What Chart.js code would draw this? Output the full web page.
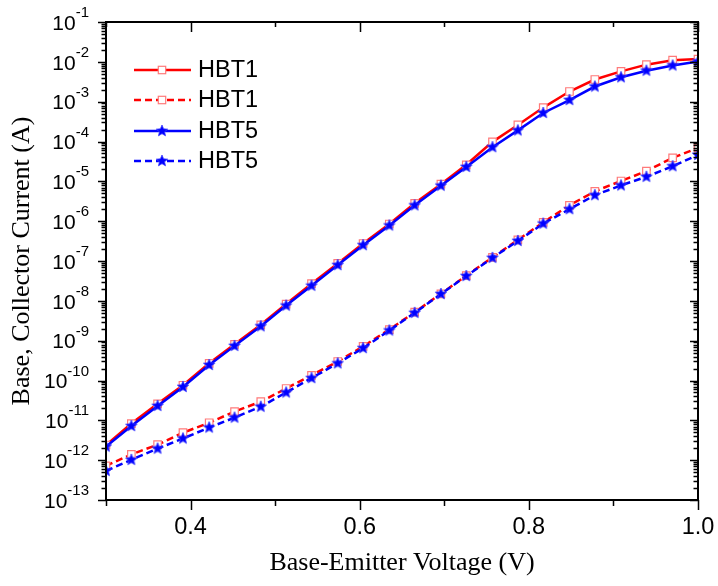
<!DOCTYPE html>
<html>
<head>
<meta charset="utf-8">
<script src="https://cdn.jsdelivr.net/npm/chart.js@4.4.0/dist/chart.umd.min.js"></script>
<style>
  body { margin: 0; background: #fff; }
  #ivChart { display: block; }
</style>
</head>
<body>
<canvas id="ivChart" width="718" height="586"></canvas>
<script>
// base-emitter voltage (V)
var voltage = [0.300, 0.330, 0.361, 0.391, 0.422, 0.452, 0.483, 0.513, 0.543, 0.574, 0.604, 0.635,
               0.665, 0.696, 0.726, 0.757, 0.787, 0.817, 0.848, 0.878, 0.909, 0.939, 0.970, 1.000];

// collector current (A), solid lines
var hbt1Ic = [2.4e-12, 8.3e-12, 2.6e-11, 7.6e-11, 2.7e-10, 8.1e-10, 2.5e-9, 8.3e-9, 2.7e-8, 8.7e-8, 2.75e-7, 8.5e-7,
              2.8e-6, 8.5e-6, 2.6e-5, 9.8e-5, 2.6e-4, 7.1e-4, 1.8e-3, 3.6e-3, 5.75e-3, 8.5e-3, 1.1e-2, 1.17e-2];
var hbt5Ic = [2.2e-12, 7.2e-12, 2.3e-11, 6.9e-11, 2.45e-10, 7.4e-10, 2.3e-9, 7.6e-9, 2.4e-8, 7.9e-8, 2.5e-7, 7.8e-7,
              2.5e-6, 7.8e-6, 2.3e-5, 7.2e-5, 1.9e-4, 5.2e-4, 1.1e-3, 2.4e-3, 4.1e-3, 6.0e-3, 8.1e-3, 1.02e-2];

// base current (A), dashed lines
var hbt1Ib = [7.2e-13, 1.4e-12, 2.45e-12, 4.9e-12, 8.7e-12, 1.66e-11, 2.95e-11, 6.3e-11, 1.35e-10, 3.0e-10, 7.2e-10, 1.9e-9,
              5.2e-9, 1.5e-8, 4.3e-8, 1.23e-7, 3.4e-7, 9.3e-7, 2.5e-6, 5.6e-6, 1.02e-5, 1.8e-5, 3.9e-5, 6.9e-5];
var hbt5Ib = [5.4e-13, 1.02e-12, 1.95e-12, 3.5e-12, 6.6e-12, 1.17e-11, 2.2e-11, 5.0e-11, 1.15e-10, 2.7e-10, 6.5e-10, 1.8e-9,
              5.0e-9, 1.48e-8, 4.2e-8, 1.2e-7, 3.2e-7, 8.7e-7, 2.0e-6, 4.5e-6, 7.9e-6, 1.3e-5, 2.4e-5, 4.6e-5];

// tick labels
var xMajorTicks = [0.4, 0.6, 0.8, 1.0];
var xTickLabels = ['0.4', '0.6', '0.8', '1.0'];
var xMinorTicks = [0.3, 0.5, 0.7, 0.9];
var yExponents = [-13, -12, -11, -10, -9, -8, -7, -6, -5, -4, -3, -2, -1];

function pts(ys) {
    var out = [];
    for (var i = 0; i < voltage.length; i++)
        out.push({ x: voltage[i], y: ys[i] });
    return out;
}

// filled five point star used as the HBT5 marker
function makeStar(r) {
    var c = document.createElement('canvas');
    var s = Math.ceil(r * 2 + 2);
    c.width = s; c.height = s;
    var g = c.getContext('2d');
    g.beginPath();
    for (var i = 0; i < 10; i++) {
        var rad = (i % 2 == 0) ? r : r * 0.45;
        var a = -Math.PI / 2 + i * Math.PI / 5;
        var px = s / 2 + rad * Math.cos(a), py = s / 2 + rad * Math.sin(a);
        if (i == 0) g.moveTo(px, py); else g.lineTo(px, py);
    }
    g.closePath();
    g.fillStyle = '#0000ff';
    g.fill();
    g.strokeStyle = '#3b3bff';
    g.lineWidth = 0.8;
    g.stroke();
    return c;
}
var star = makeStar(6);

function dataset(label, ys, color, dashed, isStar) {
    return {
        label: label,
        data: pts(ys),
        borderColor: color,
        backgroundColor: color,
        borderWidth: 2.5,
        borderDash: dashed ? [7, 4] : [],
        tension: 0,
        pointStyle: isStar ? star : 'rect',
        pointRadius: 5.3,
        pointBorderWidth: 1.2,
        pointBorderColor: isStar ? '#0000ff' : '#ff7a7a',
        pointBackgroundColor: isStar ? '#0000ff' : '#ffffff',
        order: isStar ? 0 : 1
    };
}

// frame, ticks and tick labels (Origin style)
var framePlugin = {
    id: 'frame',
    afterDraw: function (chart) {
        var ctx = chart.ctx, a = chart.chartArea;
        var xs = chart.scales.x, ys = chart.scales.y;
        ctx.save();
        ctx.strokeStyle = '#000';
        ctx.lineWidth = 1.5;
        ctx.beginPath();
        var i, k, n, px, py;
        // x ticks: bottom outward, top inward
        for (i = 0; i < xMajorTicks.length; i++) {
            px = Math.round(xs.getPixelForValue(xMajorTicks[i])) + 0.5;
            ctx.moveTo(px, a.bottom); ctx.lineTo(px, a.bottom + 10);
            ctx.moveTo(px, a.top); ctx.lineTo(px, a.top + 10);
        }
        for (i = 0; i < xMinorTicks.length; i++) {
            px = Math.round(xs.getPixelForValue(xMinorTicks[i])) + 0.5;
            ctx.moveTo(px, a.bottom); ctx.lineTo(px, a.bottom + 6);
            ctx.moveTo(px, a.top); ctx.lineTo(px, a.top + 5);
        }
        // y ticks: left outward, right inward
        for (i = 0; i < yExponents.length; i++) {
            n = yExponents[i];
            py = Math.round(ys.getPixelForValue(Math.pow(10, n))) + 0.5;
            ctx.moveTo(a.left - 8, py); ctx.lineTo(a.left, py);
            ctx.moveTo(a.right, py); ctx.lineTo(a.right - 8, py);
            if (n == -1) continue;
            for (k = 2; k <= 9; k++) {
                py = Math.round(ys.getPixelForValue(k * Math.pow(10, n))) + 0.5;
                ctx.moveTo(a.left - 4.5, py); ctx.lineTo(a.left, py);
                ctx.moveTo(a.right, py); ctx.lineTo(a.right - 4.5, py);
            }
        }
        ctx.stroke();
        ctx.lineWidth = 2;
        ctx.strokeRect(a.left, a.top, a.right - a.left, a.bottom - a.top);

        ctx.fillStyle = '#000';
        ctx.textBaseline = 'middle';
        ctx.textAlign = 'center';
        ctx.font = '23.5px "Liberation Sans", Arial, sans-serif';
        for (i = 0; i < xMajorTicks.length; i++) {
            ctx.fillText(xTickLabels[i], xs.getPixelForValue(xMajorTicks[i]), a.bottom + 28);
        }
        var rightEdge = a.left - 17;
        for (i = 0; i < yExponents.length; i++) {
            n = yExponents[i];
            py = ys.getPixelForValue(Math.pow(10, n));
            var sup = '-' + Math.abs(n);
            ctx.font = '15px "Liberation Sans", Arial, sans-serif';
            ctx.textAlign = 'right';
            var w = ctx.measureText(sup).width;
            ctx.fillText(sup, rightEdge, py - 9);
            ctx.font = '21px "Liberation Sans", Arial, sans-serif';
            ctx.fillText('10', rightEdge - w, py + 2);
        }
        ctx.restore();
    }
};

// legend inside the plot, top left
var legendPlugin = {
    id: 'innerLegend',
    afterDraw: function (chart) {
        var ctx = chart.ctx;
        var rows = [70, 100, 131, 161];
        ctx.save();
        chart.data.datasets.forEach(function (ds, i) {
            var y = rows[i];
            ctx.strokeStyle = ds.borderColor;
            ctx.lineWidth = ds.borderWidth;
            ctx.setLineDash(ds.borderDash);
            ctx.beginPath();
            ctx.moveTo(134, y); ctx.lineTo(191, y);
            ctx.stroke();
            ctx.setLineDash([]);
            if (ds.pointStyle === 'rect') {
                ctx.fillStyle = '#fff';
                ctx.fillRect(158.3, y - 3.7, 7.4, 7.4);
                ctx.strokeStyle = ds.pointBorderColor;
                ctx.lineWidth = 1.2;
                ctx.strokeRect(158.3, y - 3.7, 7.4, 7.4);
            } else {
                ctx.drawImage(ds.pointStyle, 162 - ds.pointStyle.width / 2, y - ds.pointStyle.height / 2);
            }
            ctx.fillStyle = '#000';
            ctx.font = '23.5px "Liberation Sans", Arial, sans-serif';
            ctx.textAlign = 'left';
            ctx.textBaseline = 'middle';
            ctx.fillText(ds.label, 198, y + 1);
        });
        ctx.restore();
    }
};

var ctx = document.getElementById('ivChart').getContext('2d');
var ivChart = new Chart(ctx, {
    type: 'line',
    data: {
        datasets: [
            dataset('HBT1', hbt1Ic, '#ff0000', false, false),
            dataset('HBT1', hbt1Ib, '#ff0000', true, false),
            dataset('HBT5', hbt5Ic, '#0000ff', false, true),
            dataset('HBT5', hbt5Ib, '#0000ff', true, true)
        ]
    },
    options: {
        responsive: false,
        animation: false,
        layout: { padding: { top: 22, right: 20, bottom: 0, left: 0 } },
        plugins: {
            legend: { display: false },
            tooltip: { enabled: false }
        },
        scales: {
            x: {
                type: 'linear',
                min: 0.3,
                max: 1.0,
                grid: { display: false },
                border: { display: false },
                ticks: { display: false },
                title: {
                    display: true,
                    text: 'Base-Emitter Voltage (V)',
                    color: '#000',
                    font: { family: '"Liberation Serif", "Times New Roman", serif', size: 26 },
                    padding: { top: 0, bottom: 7 }
                },
                afterFit: function (s) { s.height = 86; }
            },
            y: {
                type: 'logarithmic',
                min: 1e-13,
                max: 1e-1,
                grid: { display: false },
                border: { display: false },
                ticks: { display: false },
                title: {
                    display: true,
                    text: 'Base, Collector Current (A)',
                    color: '#000',
                    font: { family: '"Liberation Serif", "Times New Roman", serif', size: 26 },
                    padding: { top: 7, bottom: 0 }
                },
                afterFit: function (s) { s.width = 106; }
            }
        }
    },
    plugins: [framePlugin, legendPlugin]
});
</script>
</body>
</html>
